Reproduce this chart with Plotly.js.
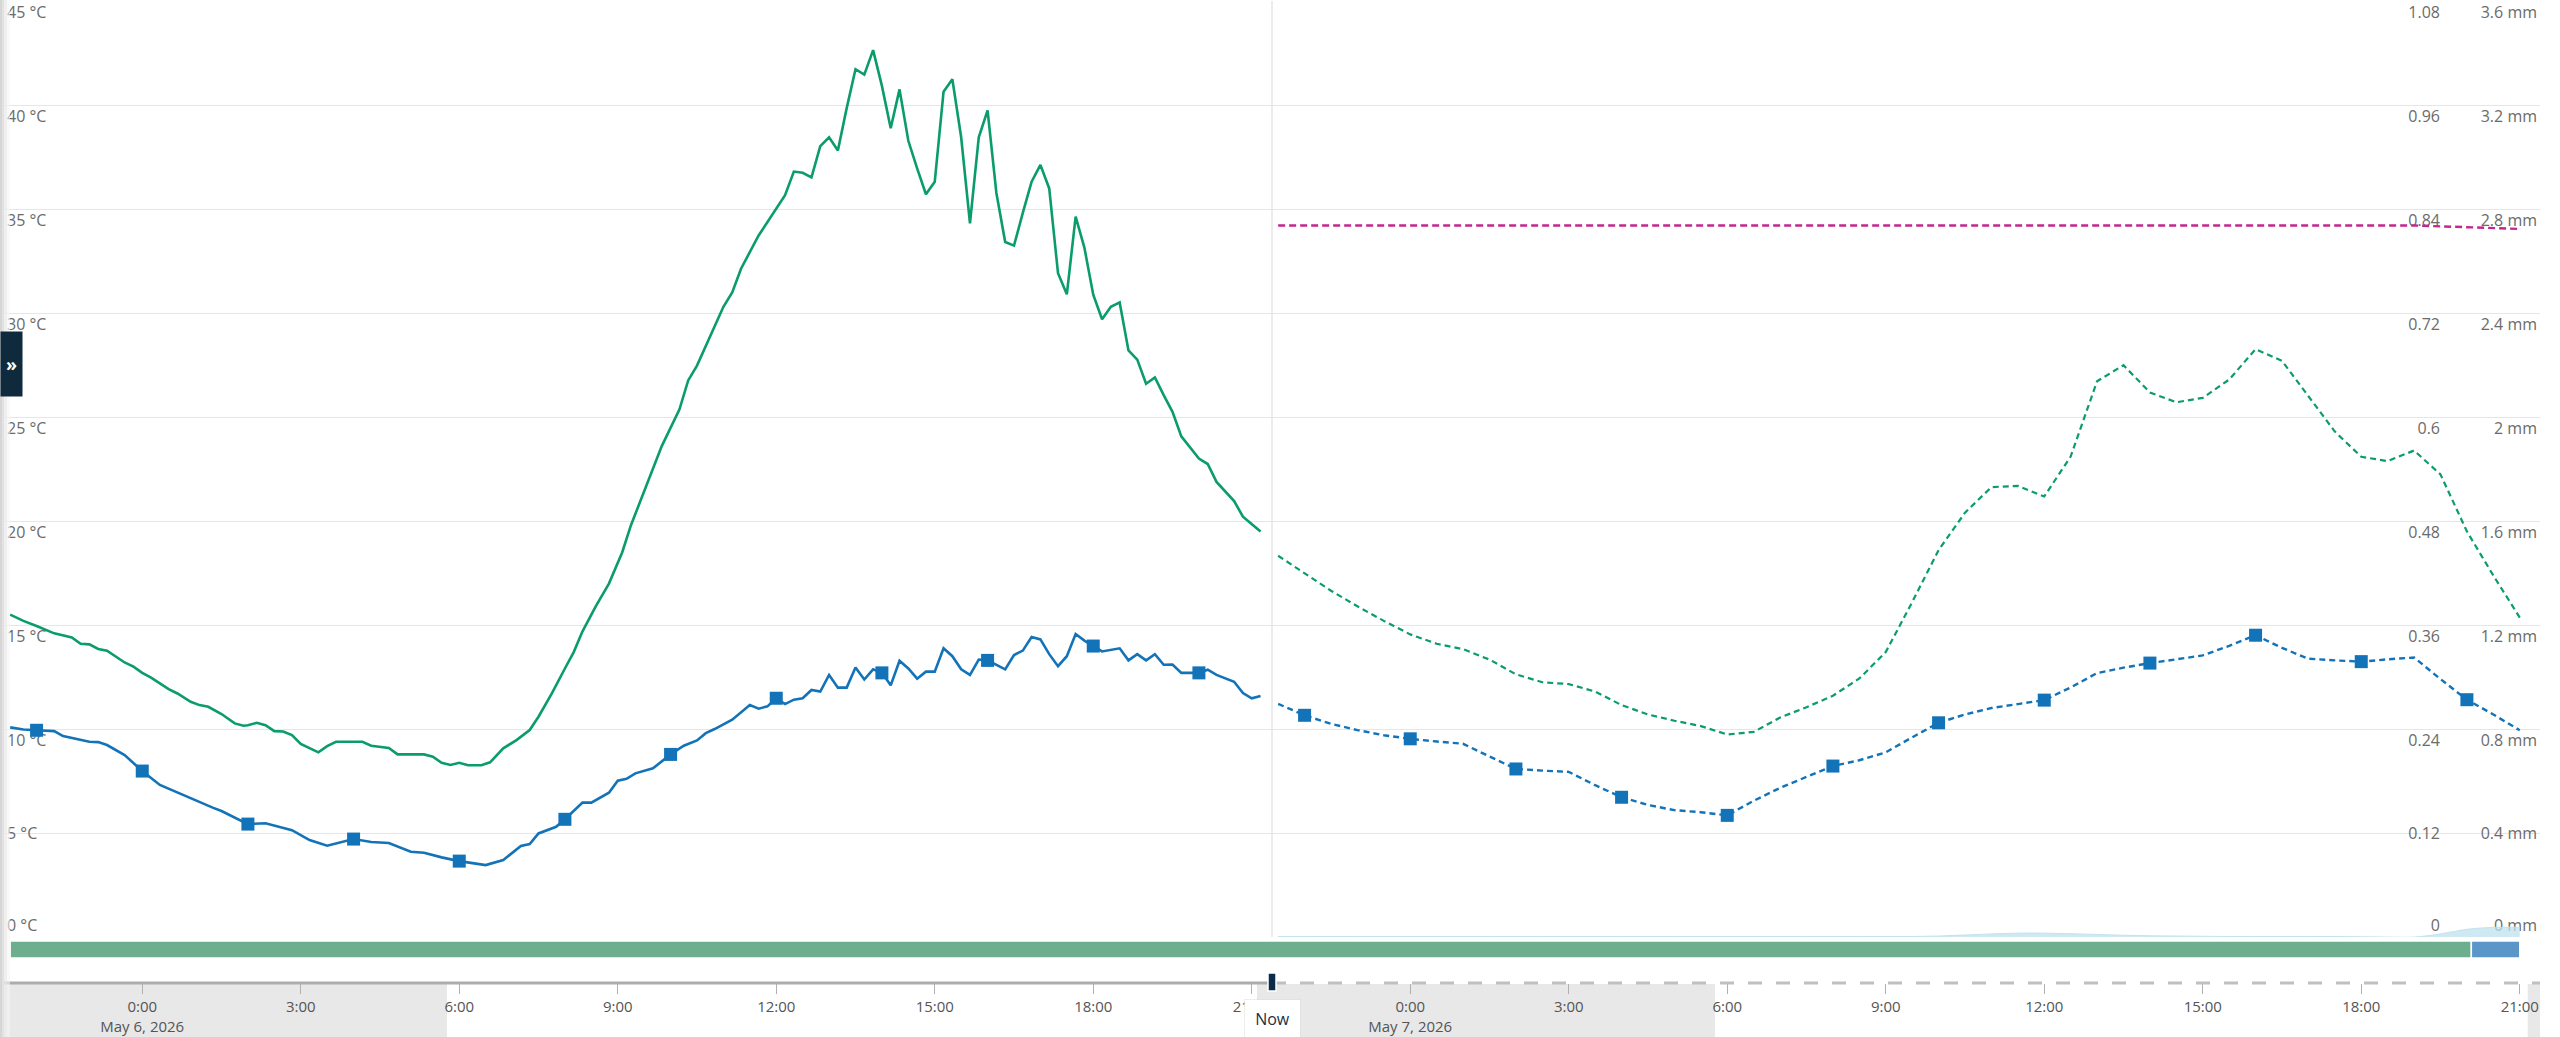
<!DOCTYPE html>
<html><head><meta charset="utf-8">
<script src="https://cdn.plot.ly/plotly-3.0.1.min.js"></script>
<style>html,body{margin:0;padding:0;background:#fff;overflow:hidden}#chart{width:2560px;height:1037px}</style>
</head><body><div id="chart"></div>
<script>
// ---------- time helpers (minutes relative to 2026-05-06 00:00) ----------
const BASE_UTC = Date.UTC(2026, 4, 6, 0, 0);
function toTime(min) {
  const d = new Date(BASE_UTC + min * 60000);
  const p = n => String(n).padStart(2, '0');
  return d.getUTCFullYear() + '-' + p(d.getUTCMonth() + 1) + '-' + p(d.getUTCDate()) + ' ' + p(d.getUTCHours()) + ':' + p(d.getUTCMinutes());
}

// ---------- data ----------
const RANGE_START = '2026-05-05 21:23';
const RANGE_END   = '2026-05-07 21:23';
const NOW         = '2026-05-06 21:23';

// observed, second temperature (green)
const greenObsMin = [-150,-135,-120,-100,-80,-70,-60,-50,-40,-20,-10,0,10,30,40,55,65,75,90,105,115,120,130,140,150,160,170,180,200,210,220,250,260,280,290,320,330,340,350,360,370,385,395,410,425,440,450,465,480,490,500,515,530,545,555,580,590,610,620,630,660,670,680,700,710,730,740,750,760,770,780,790,800,810,820,830,840,850,860,870,880,890,900,910,920,930,940,950,960,970,980,990,1000,1010,1020,1030,1040,1050,1060,1070,1080,1090,1100,1110,1120,1130,1140,1150,1160,1170,1180,1200,1210,1220,1240,1250,1270];
const greenObsVal = [15.5,15.2,14.95,14.6,14.4,14.1,14.07,13.85,13.77,13.2,13.0,12.7,12.47,11.92,11.71,11.31,11.15,11.07,10.72,10.27,10.16,10.18,10.3,10.18,9.9,9.88,9.71,9.28,8.88,9.18,9.39,9.39,9.2,9.09,8.78,8.78,8.67,8.38,8.27,8.38,8.26,8.26,8.4,9.07,9.47,9.95,10.59,11.7,12.91,13.7,14.7,15.9,16.99,18.49,19.8,22.47,23.6,25.36,26.76,27.47,30.3,30.99,32.13,33.73,34.38,35.66,36.8,36.74,36.52,38.02,38.45,37.81,39.85,41.72,41.46,42.64,40.92,38.88,40.75,38.28,36.95,35.71,36.31,40.64,41.24,38.45,34.31,38.45,39.74,35.77,33.41,33.24,34.81,36.31,37.12,35.99,31.91,30.9,34.63,33.13,30.88,29.7,30.3,30.51,28.2,27.76,26.6,26.9,26.05,25.25,24.07,23.0,22.74,21.88,20.96,20.21,19.5];

// observed, air temperature (blue)
const blueObsMin = [-150,-135,-120,-100,-90,-60,-50,-40,-20,0,20,50,80,90,120,140,170,190,210,240,260,280,305,320,340,360,390,410,430,440,450,470,480,500,510,530,540,550,560,580,600,615,630,640,650,670,680,690,700,710,720,730,740,750,760,770,780,790,800,810,820,830,840,850,860,870,880,890,900,910,920,930,940,950,960,970,980,990,1000,1010,1020,1030,1040,1050,1060,1070,1080,1090,1110,1120,1130,1140,1150,1160,1170,1180,1200,1210,1220,1240,1250,1260,1270];
const blueObsVal = [10.08,9.98,9.94,9.9,9.66,9.39,9.37,9.23,8.75,7.98,7.31,6.75,6.22,6.06,5.43,5.47,5.14,4.66,4.39,4.71,4.57,4.52,4.10,4.05,3.83,3.65,3.46,3.70,4.38,4.47,4.98,5.30,5.66,6.46,6.46,6.94,7.52,7.61,7.87,8.11,8.78,9.2,9.45,9.8,10.0,10.45,10.82,11.15,10.98,11.09,11.48,11.2,11.41,11.48,11.88,11.8,12.6,11.99,11.99,12.96,12.38,12.87,12.70,12.1,13.28,12.91,12.42,12.76,12.76,13.88,13.5,12.87,12.6,13.34,13.3,13.09,12.87,13.56,13.77,14.42,14.31,13.6,13.02,13.5,14.57,14.25,13.99,13.73,13.88,13.3,13.6,13.3,13.6,13.09,13.1,12.70,12.70,12.85,12.6,12.27,11.73,11.48,11.59];

// forecast (half-hourly from 21:30 May 6 to 21:00 May 7)
const fcMin = [1290,1320,1350,1380,1410,1440,1470,1500,1530,1560,1590,1620,1650,1680,1710,1740,1770,1800,1830,1860,1890,1920,1950,1980,2010,2040,2070,2100,2130,2160,2190,2220,2250,2280,2310,2340,2370,2400,2430,2460,2490,2520,2550,2580,2610,2640,2670,2700];
const greenFcVal = [18.33,17.5,16.65,15.9,15.2,14.55,14.1,13.84,13.34,12.63,12.25,12.16,11.8,11.15,10.7,10.4,10.14,9.74,9.86,10.55,11.05,11.6,12.43,13.7,16.1,18.6,20.4,21.63,21.69,21.18,23.1,26.72,27.49,26.18,25.71,25.92,26.8,28.26,27.7,26.0,24.3,23.09,22.88,23.39,22.24,19.5,17.38,15.36];
const blueFcVal  = [11.21,10.66,10.25,9.95,9.7,9.53,9.4,9.29,8.68,8.08,8.0,7.94,7.3,6.72,6.35,6.1,6.0,5.85,6.55,7.17,7.7,8.22,8.5,8.88,9.6,10.3,10.7,11.01,11.2,11.39,12.0,12.69,12.95,13.17,13.35,13.54,14.0,14.51,13.9,13.38,13.3,13.24,13.35,13.44,12.4,11.41,10.7,9.94];
const magentaFcVal = [0.821,0.821,0.821,0.821,0.821,0.821,0.821,0.821,0.821,0.821,0.821,0.821,0.821,0.821,0.821,0.821,0.821,0.821,0.821,0.821,0.821,0.821,0.821,0.821,0.821,0.821,0.821,0.821,0.821,0.821,0.821,0.821,0.821,0.821,0.821,0.821,0.821,0.821,0.821,0.821,0.821,0.821,0.821,0.821,0.820,0.819,0.818,0.817];
const precipFcMm = [0.002,0.002,0.002,0.002,0.002,0.002,0.002,0.002,0.002,0.002,0.002,0.002,0.002,0.002,0.002,0.002,0.002,0.002,0.002,0.002,0.002,0.002,0.002,0.002,0.002,0.004,0.008,0.012,0.015,0.015,0.013,0.01,0.007,0.005,0.004,0.003,0.002,0.002,0.002,0.002,0.002,0.001,0.0,0.0,0.012,0.03,0.037,0.037];

// condition strip
const condStart = ['2026-05-05 21:30', '2026-05-07 20:05'];
const condEnd   = ['2026-05-07 20:05', '2026-05-07 21:00'];
const condColor = ['#6cae8d', '#5a97c8'];

// night periods (shading under the time axis)
const nightStart = ['2026-05-05 21:23', '2026-05-06 21:06', '2026-05-07 21:09'];
const nightEnd   = ['2026-05-06 05:46', '2026-05-07 05:46', '2026-05-07 21:23'];

// ticks
const TEMP_TICKS  = [0, 5, 10, 15, 20, 25, 30, 35, 40, 45];
const TEMP_LABELS = ['0 °C','5 °C','10 °C','15 °C','20 °C','25 °C','30 °C','35 °C','40 °C','45 °C'];
const RATIO_TICKS  = [0, 0.12, 0.24, 0.36, 0.48, 0.6, 0.72, 0.84, 0.96, 1.08];
const RATIO_LABELS = ['0','0.12','0.24','0.36','0.48','0.6','0.72','0.84','0.96','1.08'];
const MM_TICKS  = [0, 0.4, 0.8, 1.2, 1.6, 2, 2.4, 2.8, 3.2, 3.6];
const MM_LABELS = ['0 mm','0.4 mm','0.8 mm','1.2 mm','1.6 mm','2 mm','2.4 mm','2.8 mm','3.2 mm','3.6 mm'];
const X_TICKS = ['2026-05-06 00:00','2026-05-06 03:00','2026-05-06 06:00','2026-05-06 09:00','2026-05-06 12:00','2026-05-06 15:00','2026-05-06 18:00','2026-05-06 21:00','2026-05-07 00:00','2026-05-07 03:00','2026-05-07 06:00','2026-05-07 09:00','2026-05-07 12:00','2026-05-07 15:00','2026-05-07 18:00','2026-05-07 21:00'];
const X_LABELS = ['0:00<br>May 6, 2026','3:00','6:00','9:00','12:00','15:00','18:00','21:00','0:00<br>May 7, 2026','3:00','6:00','9:00','12:00','15:00','18:00','21:00'];

// ---------- styling ----------
const GREEN = '#0a9c6d', BLUE = '#1373b8', MAGENTA = '#c3268f';
const GRID = '#e6e6e6';
const FONT = '"Open Sans", "Noto Sans", sans-serif';
const TICKFONT = {family: FONT, size: 16, color: '#6b6b6b'};
const DOM = [0.0468, 1];
const HIGH = [2,3,4,5,6,7,8,9], MID = [1], ZERO = [0];

function evenHourSizes(mins, size) {
  return mins.map(m => (((m % 120) + 120) % 120 === 0) ? size : 0);
}

const traces = [
  {type:'scatter', mode:'lines', x: greenObsMin.map(toTime), y: greenObsVal,
   line:{color:GREEN, width:2.6}, hoverinfo:'skip'},
  {type:'scatter', mode:'lines+markers', x: blueObsMin.map(toTime), y: blueObsVal,
   line:{color:BLUE, width:2.6}, marker:{symbol:'square', color:BLUE, opacity:1, line:{width:0}, size: evenHourSizes(blueObsMin, 13)}, hoverinfo:'skip'},
  {type:'scatter', mode:'lines', x: fcMin.map(toTime), y: greenFcVal,
   line:{color:GREEN, width:2.2, dash:'6px,4px'}, hoverinfo:'skip'},
  {type:'scatter', mode:'lines+markers', x: fcMin.map(toTime), y: blueFcVal,
   line:{color:BLUE, width:2.4, dash:'6px,4px'}, marker:{symbol:'square', color:BLUE, opacity:1, line:{width:0}, size: evenHourSizes(fcMin, 13)}, hoverinfo:'skip'},
  {type:'scatter', mode:'lines', x: fcMin.map(toTime), y: magentaFcVal, yaxis:'y2',
   line:{color:MAGENTA, width:2.4, dash:'7px,4px'}, hoverinfo:'skip'},
  {type:'scatter', mode:'lines', x: fcMin.map(toTime), y: precipFcMm, yaxis:'y3',
   fill:'tozeroy', fillcolor:'rgba(190,225,236,0.75)', line:{color:'rgba(190,225,236,0.9)', width:1, shape:'spline'}, hoverinfo:'skip'},
  {type:'bar', orientation:'h', yaxis:'y10', y: condStart.map(() => 0), base: condStart,
   x: condStart.map((s, i) => Date.parse(condEnd[i].replace(' ', 'T') + 'Z') - Date.parse(s.replace(' ', 'T') + 'Z')),
   width: 1, marker:{color: condColor, line:{color:'#ffffff', width:1.5}}, hoverinfo:'skip'}
];
['y4','y5','y6','y7','y8','y9'].forEach(a => traces.push({type:'scatter', mode:'lines', x:[], y:[], yaxis:a, hoverinfo:'skip'}));

function axis(ticks, labels, idx, range, extra) {
  return Object.assign({
    domain: DOM, range: range, fixedrange: true, tickmode: 'array',
    tickvals: idx.map(i => ticks[i]), ticktext: idx.map(i => labels[i]),
    ticks: '', showline: false, zeroline: false, tickfont: TICKFONT, layer: 'below traces',
    ticklabeloverflow: 'allow'
  }, extra);
}
const RATIO_POS = (2443 - 4) / 2536;

const shapes = [];
nightStart.forEach((s, i) => shapes.push({type:'rect', xref:'x', yref:'paper', x0:s, x1:nightEnd[i], y0:-0.06, y1:-0.001,
  fillcolor:'#e8e8e8', line:{width:0}, layer:'below'}));
shapes.push({type:'line', xref:'x', yref:'paper', x0:NOW, x1:NOW, y0:DOM[0], y1:1, line:{color:'#d9d9d9', width:1}, layer:'below'});
shapes.push({type:'line', xref:'x', yref:'paper', x0:RANGE_START, x1:NOW, y0:0, y1:0, line:{color:'#acacac', width:3}, layer:'above'});
shapes.push({type:'line', xref:'x', yref:'paper', x0:NOW, x1:RANGE_END, y0:0, y1:0, line:{color:'#c0c0c0', width:3, dash:'14px,14px'}, layer:'above'});
shapes.push({type:'rect', xref:'x', yref:'paper', xsizemode:'pixel', ysizemode:'pixel', xanchor:NOW, yanchor:0,
  x0:-4, x1:4, y0:-8, y1:10, fillcolor:'#0d2c4b', line:{color:'#ffffff', width:1.5}, layer:'above'});
// left panel edge shadow
const px = p => (p - 4) / 2536;
[[0,2,'#d6d6d6'],[2,4,'#e2e2e2'],[4,7,'rgba(235,235,235,0.8)'],[7,10,'rgba(245,245,245,0.6)']].forEach(s =>
  shapes.push({type:'rect', xref:'paper', yref:'paper', x0:px(s[0]), x1:px(s[1]), y0:-0.06, y1:1.01, fillcolor:s[2], line:{width:0}, layer:'above'}));

const annotations = [
  {xref:'x', yref:'paper', x:NOW, y:-0.0163, xanchor:'center', yanchor:'top', showarrow:false,
   text:'Now', font:{family:FONT, size:16, color:'#1d2f45'}, bgcolor:'#ffffff', bordercolor:'rgba(0,0,0,0.07)', borderwidth:1,
   width:55, height:38, borderpad:0},
  {xref:'paper', yref:'paper', x:px(0), y:(983-364)/982, xanchor:'left', yanchor:'middle', showarrow:false,
   text:'<b>»</b>', font:{family:FONT, size:18, color:'#ffffff'}, bgcolor:'#0f2a3c', width:21, height:64, borderpad:0}
];

const layout = {
  width: 2560, height: 1037,
  margin: {l:4, r:20, t:1, b:54, pad:0},
  paper_bgcolor: '#ffffff', plot_bgcolor: 'rgba(0,0,0,0)',
  showlegend: false, dragmode: false,
  font: {family: FONT, color:'#6b6b6b'},
  xaxis: {type:'date', range:[RANGE_START, RANGE_END], anchor:'free', position:0, domain:[0,1],
    tickmode:'array', tickvals: X_TICKS, ticktext: X_LABELS,
    ticks:'outside', ticklen:10, tickwidth:1, tickcolor:'#b0b0b0',
    showgrid:false, zeroline:false, showline:false, fixedrange:true,
    tickfont:{family:FONT, size:15, color:'#555555'}},
  yaxis:  axis(TEMP_TICKS, TEMP_LABELS, HIGH, [0,45], {anchor:'x', side:'left', ticklabelposition:'inside bottom', showgrid:true, gridcolor:GRID}),
  yaxis4: axis(TEMP_TICKS, TEMP_LABELS, MID,  [0,45], {overlaying:'y', anchor:'x', side:'left', ticklabelposition:'inside', showgrid:true, gridcolor:GRID}),
  yaxis7: axis(TEMP_TICKS, TEMP_LABELS, ZERO, [0,45], {overlaying:'y', anchor:'x', side:'left', ticklabelposition:'inside top', showgrid:true, gridcolor:'#d8ecf2'}),
  yaxis2: axis(RATIO_TICKS, RATIO_LABELS, HIGH, [0,1.08], {overlaying:'y', anchor:'free', position:RATIO_POS, side:'right', ticklabelposition:'inside bottom', showgrid:false}),
  yaxis5: axis(RATIO_TICKS, RATIO_LABELS, MID,  [0,1.08], {overlaying:'y', anchor:'free', position:RATIO_POS, side:'right', ticklabelposition:'inside', showgrid:false}),
  yaxis8: axis(RATIO_TICKS, RATIO_LABELS, ZERO, [0,1.08], {overlaying:'y', anchor:'free', position:RATIO_POS, side:'right', ticklabelposition:'inside top', showgrid:false}),
  yaxis3: axis(MM_TICKS, MM_LABELS, HIGH, [0,3.6], {overlaying:'y', anchor:'x', side:'right', ticklabelposition:'inside bottom', showgrid:false}),
  yaxis6: axis(MM_TICKS, MM_LABELS, MID,  [0,3.6], {overlaying:'y', anchor:'x', side:'right', ticklabelposition:'inside', showgrid:false}),
  yaxis9: axis(MM_TICKS, MM_LABELS, ZERO, [0,3.6], {overlaying:'y', anchor:'x', side:'right', ticklabelposition:'inside top', showgrid:false}),
  yaxis10: {domain:[0.0255, 0.0428], range:[-0.5, 0.5], anchor:'x', visible:false, fixedrange:true},
  shapes: shapes,
  annotations: annotations
};

Plotly.newPlot('chart', traces, layout, {staticPlot:true, displayModeBar:false});
</script>
</body></html>
